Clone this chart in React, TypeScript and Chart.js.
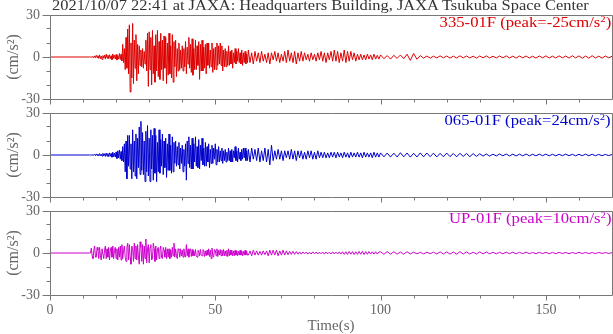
import React, { useEffect, useRef } from 'react';
import { Chart, registerables } from 'chart.js';

Chart.register(...registerables);

// ---- time axis description (segments of uniformly sampled values) ----
const PRE_START = 12, PRE_DT = 0.25; // 12.0 .. 19.75 s
const MAIN_START = 20, MAIN_DT = 0.25; // 20.0 .. 59.75 s
const MID_START = 60, MID_DT = 0.5; // 60.0 .. 99.5 s
const CODA_START = 100, CODA_DT = 1; // 100 .. 170 s
const X_MIN = 0;
const X_MAX = 170;
const X_STEP = 10;
const X_LABEL_EVERY = 50;
const Y_MIN = -30;
const Y_MAX = 30;
const Y_STEP = 10;
const Y_LABEL_EVERY = 30;

const TITLE = '2021/10/07 22:41 at JAXA: Headquarters Building, JAXA Tsukuba Space Center';
const X_TITLE = 'Time(s)';
const Y_TITLE = '(cm/s\u00B2)';

// ================= 335-01F (cm/s^2) =================
const ch335Pre = [
  0, 0, 0, 0, 0.3, -0.5, 0.8, -0.6, 1.2, -0.4, 0.9, -1.0, 1.5, -1.2, 0.6, -1.8,
  1.0, -0.7, 1.3, -1.5, 2.0, -0.8, 1.2, -1.2, 1.6, -1.1, 0.9, -2.0, 2.2, -1.0, 1.4, -1.4,
];
const ch335Main = [
  1.8, -2.2, 1.0, -1.5, 2.5, -1.8, 2.0, -2.8,
  9, -4, 6, -9, 14, -8, 20, -12,
  23, -25, 10, -15, 24, -19, 12, -8,
  16, -17, 9, -12, 8, -6, 5, -7,
  6, -8, 4, -5, 12, -10, 17, -21,
  18, -9, 14, -20, 19, -12, 8, -18,
  16, -10, 19, -14, 11, -16, 17, -9,
  12, -17, 15, -8, 14, -19, 10, -13,
  17, -12, 8, -15, 16, -18, 11, -7,
  12, -14, 6, -10, 10, -9, 5, -8,
  8, -10, 6, -7, 11, -12, 7, -5,
  14, -8, 9, -11, 13, -13, 6, -9,
  12, -9, 8, -6, 11, -16, 9, -10,
  12, -10, 7, -8, 9, -12, 10, -6,
  10, -8, 5, -7, 10, -11, 6, -9,
  7, -9, 10, -6, 8, -5, 10, -6,
  8, -10, 5, -7, 6, -7, 4, -6,
  8, -6, 4, -5, 5, -8, 3, -4,
  6, -5, 4, -3, 6, -4, 3, -5,
  5, -6, 3, -4, 4, -5, 2, -4,
];
const ch335Mid = [
  5, -4, 3, -5,
  4, -3, 3, -4, 4, -3, 2, -4, 3, -5,
  3, -2, 4, -3, 3, -4, 2, -3, 4, -4,
  5, -3, 3, -4, 4, -5, 3, -3, 4, -3,
  3, -2, 2, -3, 3, -2, 2, -3, 3, -2,
  4, -3, 3, -4, 3, -2, 4, -3, 5, -3,
  4, -4, 3, -3, 5, -4, 4, -3, 4, -2,
  3, -3, 2, -2, 2, -2, 1.5, -2, 2, -1.5,
  1.5, -2, 2, -1.5, 1.2, -1.5,
];
const ch335Coda = [
  1.5, -1.2, 1.0, -1.5, 1.2, -1.0, 1.4, -1.2, 2.0, -2.4,
  2.5, -1.6, 1.0, -0.8, 0.7, -0.8, 0.6, -0.7, 0.8, -0.6,
  0.7, -0.8, 0.6, -0.7, 0.8, -0.6, 0.7, -0.7, 0.6, -0.8,
  0.7, -0.6, 0.8, -0.7, 0.6, -0.7, 0.7, -0.6, 0.8, -0.7,
  0.6, -0.8, 0.7, -0.6, 0.7, -0.7, 0.6, -0.8, 0.7, -0.6,
  0.8, -0.7, 0.6, -0.7, 0.8, -0.6, 0.7, -0.8, 0.9, -0.7,
  0.8, -0.9, 0.7, -0.8, 0.9, -0.7, 0.6, -0.8, 0.7, -0.6,
  0.5,
];

// ================= 065-01F =================
const ch065Pre = [
  0, 0, 0, 0, 0.3, -0.2, 0.4, -0.5, 0.8, -0.3, 0.5, -0.6, 1.0, -0.5, 0.6, -0.8,
  1.2, -0.6, 0.9, -1.0, 1.4, -0.8, 1.0, -1.2, 1.5, -0.9, 1.1, -1.6, 2.0, -1.2, 1.4, -1.5,
];
const ch065Main = [
  2.2, -2.5, 3.0, -2.0, 3.5, -3.0, 2.5, -4.0,
  6, -5, 8, -12, 10, -17, 14, -8,
  14, -10, 8, -17, 18, -12, 10, -15,
  15, -17, 12, -9, 20, -14, 24, -11,
  16, -14, 10, -19, 17, -12, 21, -15,
  12, -19, 18, -10, 14, -18, 19, -13,
  14, -19, 9, -12, 18, -13, 11, -8,
  15, -14, 10, -9, 12, -16, 8, -11,
  15, -11, 7, -13, 13, -12, 9, -6,
  10, -8, 6, -7, 9, -10, 5, -6,
  7, -12, 4, -8, 8, -18, 10, -6,
  13, -9, 7, -10, 12, -10, 8, -5,
  13, -8, 6, -9, 11, -10, 7, -4,
  12, -7, 5, -8, 9, -8, 6, -5,
  8, -9, 4, -6, 7, -6, 5, -3,
  8, -7, 4, -5, 6, -5, 3, -4,
  5, -6, 3, -4, 4, -5, 2, -4,
  5, -4, 3, -5, 4, -5, 3, -2,
  6, -4, 3, -5, 5, -3, 2, -4,
  4, -3, 5, -2, 5, -4, 3, -4,
];
const ch065Mid = [
  4, -5, 5, -3,
  4, -4, 5, -5, 3, -4, 5, -5, 4, -7,
  7, -4, 3, -3, 4, -3, 3, -4, 3, -2,
  3, -3, 4, -3, 3, -4, 3, -2, 3, -3,
  2, -3, 3, -2, 3, -3, 2, -3, 3, -2,
  2, -2, 2, -2, 1.5, -2, 2, -1.5, 2, -2,
  2, -1.5, 1.5, -2, 2, -1.5, 1.5, -2, 2, -1.5,
  1.5, -1.5, 2, -1.5, 1.5, -2, 2, -1.5, 1.5, -1.5,
  1.5, -2, 2, -1.5, 1.5, -1.5,
];
const ch065Coda = [
  1.5, -1.3, 1.4, -1.5, 1.3, -1.4, 1.6, -1.3, 1.4, -1.5,
  1.2, -1.4, 1.5, -1.3, 1.4, -1.2, 1.3, -1.4, 1.2, -1.3,
  1.4, -1.2, 1.1, -1.3, 1.2, -1.0, 1.1, -1.2, 1.0, -1.0,
  0.9, -0.8, 0.7, -0.8, 0.6, -0.7, 0.7, -0.6, 0.7, -0.7,
  0.6, -0.7, 0.6, -0.6, 0.7, -0.6, 0.5, -0.6, 0.6, -0.5,
  0.6, -0.6, 0.5, -0.6, 0.5, -0.5, 0.6, -0.5, 0.5, -0.6,
  0.5, -0.5, 0.6, -0.5, 0.5, -0.5, 0.4, -0.5, 0.4, -0.4,
  0.3,
];

// ================= UP-01F =================
const chUPPre = [
  0, 0, 3.5, -2, -4, 2, 5, -3, -3, 4, 2, -4, 4, -2, -5, 3,
  3, -4, 2, 5, -4, 3, -3, 4, -5, 2, 4, -3, 5, -4, 2, 4,
];
const chUPMain = [
  -4, 3, -5, 4, -3, 5, -5, 6,
  -4, 2, 5, -3, -6, 4, 7, -5,
  6, -3, -8, 5, 3, -6, 7, -4,
  5, -5, 6, -3, -8, 8, 4, -6,
  6, -8, 5, -4, 10, -7, 3, 6,
  -7, 4, 6, -5, -4, 7, 3, -6,
  5, -5, 3, 4, -4, 2, 5, -3,
  -4, 4, 2, -3, 4, -4, 3, -3,
  3, -4, 2, -3, 4, -2, 7, -3,
  3, -2, -4, 3, 2, -3, 3, -2,
  2, -3, 3, -2, -3, 6, -2, 3,
  -3, 2, 3, -2.5, 2.5, -2, 1.5, -2,
  2.5, -2, -3, 2, 1.5, -2, 2.5, -1.5,
  -2, 2.5, 2, -2.5, 1.5, -2, 2, -1.5,
  3, -2.5, 2, -4, 3.5, -2, -3, 2.5,
  2, -2, 3, -2.5, 2, -1.5, 2.5, -2,
  2, -2, 2.5, -2, 1.5, -2, 2, -2.5,
  3, -2, 2, -1.5, 2, -2, 1.5, -2,
  2, -1.5, 1.5, -2, 1.2, -1.5, 2, -1.5,
  1.5, -2, 1.2, -1.5, 2, -1.5, 1.2, -1.5,
];
const chUPMid = [
  -1.5, 1.5, -2, 2,
  -1.5, 1.5, -1.5, 1.2, -1.5, 1.5, -1.2, 1.5, -2, 2,
  -1.5, 2, -1.5, 2, -2, 1.5, -1.5, 2, -1.5, 1.5,
  -1.2, 1.2, -1, 1.2, -1, 1, -0.8, 0.8, -0.8, 0.7,
  -0.6, 0.7, -0.8, 0.6, -0.7, 0.8, -0.6, 0.7, -0.7, 0.6,
  -0.6, 0.7, -0.8, 0.7, -0.6, 0.6, -0.7, 0.8, -0.7, 0.6,
  -0.7, 0.8, -0.8, 0.9, -1.0, 0.9, -1.0, 1.1, -0.9, 1.0,
  -1.1, 0.9, -1.0, 1.1, -0.9, 1.2, -1.1, 1.0, -0.9, 1.0,
  -0.8, 0.9, -0.8, 0.9, -0.8, 0.7,
];
const chUPCoda = [
  0.8, -0.9, 1.0, -0.8, 0.9, -0.8, 0.7, -0.8, 0.9, -0.7,
  0.6, -0.6, 0.5, -0.6, 0.6, -0.5, 0.6, -0.7, 0.8, -0.7,
  0.8, -0.8, 0.7, -0.8, 0.9, -0.7, 0.8, -0.7, 0.6, -0.7,
  0.8, -0.6, 0.7, -0.6, 0.5, -0.6, 0.5, -0.5, 0.6, -0.5,
  0.6, -0.6, 0.5, -0.5, 0.6, -0.5, 0.4, -0.5, 0.5, -0.4,
  0.5, -0.5, 0.4, -0.5, 0.5, -0.4, 0.4, -0.5, 0.4, -0.4,
  0.5, -0.4, 0.4, -0.4, 0.3, -0.4, 0.4, -0.3, 0.3, -0.3,
  0.2,
];

const channelNames = ['335-01F', '065-01F', 'UP-01F'];
const channelPeaks = ['-25', '24', '10'];
const channelColors = ['#dd0000', '#0000cc', '#cc00cc'];
const channelSegments = [
  [ch335Pre, ch335Main, ch335Mid, ch335Coda],
  [ch065Pre, ch065Main, ch065Mid, ch065Coda],
  [chUPPre, chUPMain, chUPMid, chUPCoda],
];
const segmentStarts = [PRE_START, MAIN_START, MID_START, CODA_START];
const segmentSteps = [PRE_DT, MAIN_DT, MID_DT, CODA_DT];

const FONT = "'Liberation Serif', 'Times New Roman', serif";
const AXIS_COLOR = '#777777';
const TICK_TEXT = '#666666';

const PANEL_PITCH = 98;
const PANEL_TOP_PAD = 15;
const W = 613;
const H = 334;

function toPoints(segs: number[][]) {
  const pts: { x: number; y: number }[] = [{ x: X_MIN, y: 0 }];
  segs.forEach((seg, s) => {
    seg.forEach((v, i) => pts.push({ x: segmentStarts[s] + i * segmentSteps[s], y: v }));
  });
  return pts;
}

const frameTicks = {
  id: 'frameTicks',
  afterDraw(chart: any) {
    const { ctx, chartArea } = chart;
    const xs = chart.scales.x;
    const ys = chart.scales.y;
    const L = Math.floor(chartArea.left) + 0.5;
    const R = Math.floor(chartArea.right) + 0.5;
    const T = Math.floor(chartArea.top) + 0.5;
    const B = Math.floor(chartArea.bottom) + 0.5;
    ctx.save();
    ctx.strokeStyle = AXIS_COLOR;
    ctx.lineWidth = 1;
    ctx.beginPath();
    ctx.rect(L, T, R - L, B - T);
    ctx.stroke();
    ctx.beginPath();
    xs.ticks.forEach((t: any) => {
      const v = t.value;
      if (v >= X_MAX) return;
      const px = Math.round(xs.getPixelForValue(v)) + 0.5;
      const len = v % X_LABEL_EVERY === 0 ? 5 : 3;
      ctx.moveTo(px, B);
      ctx.lineTo(px, B + len);
    });
    ys.ticks.forEach((t: any) => {
      const v = t.value;
      const py = Math.floor(ys.getPixelForValue(v)) + 0.5;
      const len = v % Y_LABEL_EVERY === 0 ? 8 : 4;
      ctx.moveTo(L, py);
      ctx.lineTo(L - len, py);
    });
    ctx.stroke();
    ctx.restore();
  },
};

export default function App() {
  const refs = [useRef<HTMLCanvasElement>(null), useRef<HTMLCanvasElement>(null), useRef<HTMLCanvasElement>(null)];

  useEffect(() => {
    const charts: Chart[] = [];
    refs.forEach((r, i) => {
      const canvas = r.current;
      if (!canvas) return;
      const isLast = i === refs.length - 1;
      const chart = new Chart(canvas, {
        type: 'line',
        data: {
          datasets: [
            {
              data: toPoints(channelSegments[i]),
              borderColor: channelColors[i],
              borderWidth: 1,
              pointRadius: 0,
              tension: 0,
              fill: false,
            },
          ],
        },
        options: {
          animation: false,
          responsive: false,
          devicePixelRatio: 1,
          events: [],
          layout: { padding: { top: PANEL_TOP_PAD, right: 1, left: 0, bottom: 0 } },
          plugins: { legend: { display: false }, tooltip: { enabled: false }, title: { display: false } },
          scales: {
            x: {
              type: 'linear',
              min: X_MIN,
              max: X_MAX,
              grid: { display: false, drawTicks: true, tickLength: 7 },
              border: { display: false },
              ticks: {
                stepSize: X_STEP,
                autoSkip: false,
                maxRotation: 0,
                display: isLast,
                padding: 0,
                color: TICK_TEXT,
                font: { family: FONT, size: 14 },
                callback: (v: any) => (Number(v) % X_LABEL_EVERY === 0 ? String(v) : ''),
              },
              title: {
                display: isLast,
                text: X_TITLE,
                color: TICK_TEXT,
                font: { family: FONT, size: 15, lineHeight: 1 },
                padding: { top: 0, bottom: 0 },
              },
              afterFit: (s: any) => {
                s.height = isLast ? 39 : 11;
              },
            },
            y: {
              type: 'linear',
              min: Y_MIN,
              max: Y_MAX,
              grid: { display: false, drawTicks: true, tickLength: 10 },
              border: { display: false },
              ticks: {
                stepSize: Y_STEP,
                autoSkip: false,
                padding: 0,
                color: TICK_TEXT,
                font: { family: FONT, size: 14 },
                callback: (v: any) => (Number(v) % Y_LABEL_EVERY === 0 ? String(v) : ''),
              },
              title: {
                display: true,
                text: Y_TITLE,
                color: TICK_TEXT,
                font: { family: FONT, size: 16, lineHeight: 1.2 },
                padding: { top: 4, bottom: 0 },
              },
              afterFit: (s: any) => {
                s.width = 50;
              },
            },
          },
        } as any,
        plugins: [frameTicks],
      });
      charts.push(chart);
    });
    return () => charts.forEach((c) => c.destroy());
  }, []);

  return (
    <div style={{ position: 'absolute', left: 0, top: 0, width: W, height: H, overflow: 'hidden', background: '#fff' }}>
      {refs.map((r, i) => {
        const isLast = i === refs.length - 1;
        const h = isLast ? H - i * PANEL_PITCH : 110;
        return (
          <canvas
            key={i}
            ref={r}
            width={W}
            height={h}
            style={{ position: 'absolute', left: 0, top: i * PANEL_PITCH, width: W, height: h }}
          />
        );
      })}
      <div
        style={{
          position: 'absolute',
          left: 52,
          top: -1,
          fontFamily: FONT,
          fontSize: 14,
          lineHeight: '14px',
          color: '#333',
          whiteSpace: 'nowrap',
          transform: 'scaleX(1.175)',
          transformOrigin: 'left top',
        }}
      >
        {TITLE}
      </div>
      {channelNames.map((n, i) => (
        <div
          key={n}
          style={{
            position: 'absolute',
            right: 2,
            top: 16.4 + i * PANEL_PITCH,
            fontFamily: FONT,
            fontSize: 14,
            lineHeight: '14px',
            color: channelColors[i],
            whiteSpace: 'nowrap',
            transform: 'scaleX(1.19)',
            transformOrigin: 'right top',
          }}
        >
          {n} (peak={channelPeaks[i]}cm/s
          <span style={{ fontSize: 9, position: 'relative', top: -5 }}>2</span>)
        </div>
      ))}
    </div>
  );
}
